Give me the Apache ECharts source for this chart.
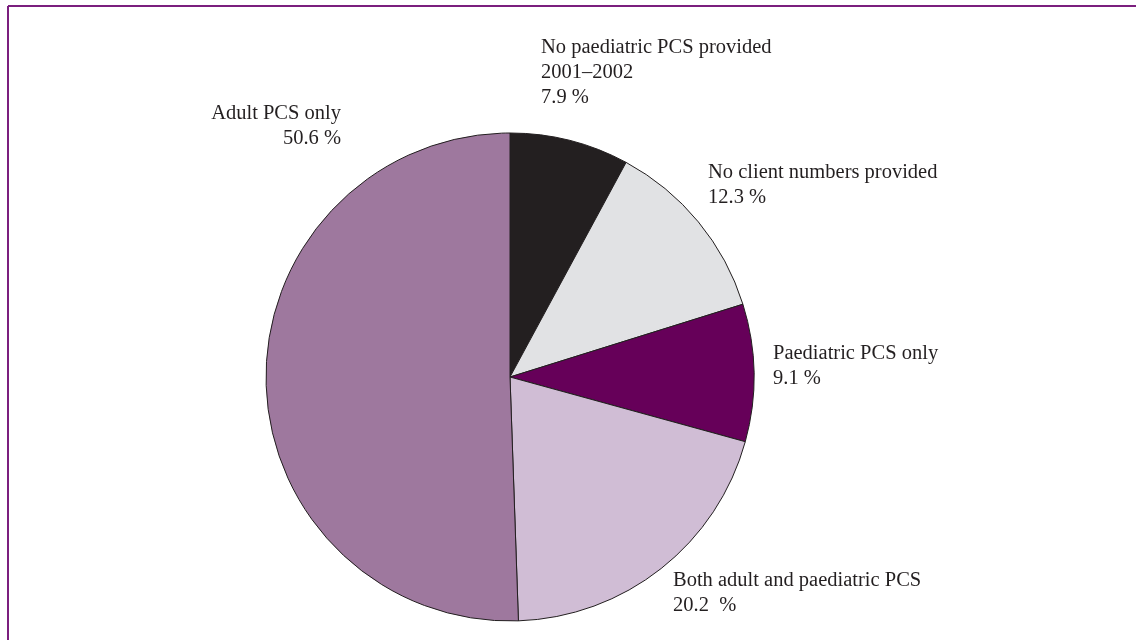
<!DOCTYPE html>
<html>
<head>
<meta charset="utf-8">
<script src="https://cdn.jsdelivr.net/npm/echarts@6/dist/echarts.min.js"></script>
<style>html,body{margin:0;padding:0;background:#fff}#c{width:1136px;height:640px}</style>
</head>
<body>
<div id="c"></div>
<script>
const categories = ['No paediatric PCS provided\n2001–2002', 'No client numbers provided', 'Paediatric PCS only', 'Both adult and paediatric PCS', 'Adult PCS only'];
const values = [7.9, 12.3, 9.1, 20.2, 50.6];
const valueLabels = ['7.9 %', '12.3 %', '9.1 %', '20.2  %', '50.6 %'];
const colors = ['#231f20', '#e1e2e4', '#660059', '#d0bdd5', '#9e789e'];
const labelPos = [
  {x: 541, y: 35, align: 'left'},
  {x: 708, y: 160, align: 'left'},
  {x: 773, y: 341, align: 'left'},
  {x: 673, y: 568, align: 'left'},
  {x: 341, y: 101, align: 'right'}
];
const chart = echarts.init(document.getElementById('c'));
chart.setOption({
  animation: false,
  backgroundColor: '#fff',
  graphic: [
    {type: 'line', shape: {x1: 8, y1: 6, x2: 1136, y2: 6}, style: {stroke: '#7b1f7e', lineWidth: 2}},
    {type: 'line', shape: {x1: 8, y1: 6, x2: 8, y2: 640}, style: {stroke: '#7b1f7e', lineWidth: 2}}
  ],
  series: [{
    type: 'pie',
    center: [510, 377],
    radius: 244,
    startAngle: 90,
    clockwise: true,
    data: categories.map((n, i) => ({name: n, value: values[i], itemStyle: {color: colors[i]}})),
    itemStyle: {borderColor: '#231f20', borderWidth: 1},
    label: {
      show: true,
      position: 'outside',
      formatter: p => p.name + '\n' + valueLabels[p.dataIndex],
      fontFamily: 'Liberation Serif',
      fontSize: 20.5,
      lineHeight: 25,
      color: '#231f20'
    },
    labelLine: {show: false},
    labelLayout: p => ({x: labelPos[p.dataIndex].x, y: labelPos[p.dataIndex].y, align: labelPos[p.dataIndex].align, verticalAlign: 'top'}),
    emphasis: {disabled: true}
  }]
});
</script>
</body>
</html>
